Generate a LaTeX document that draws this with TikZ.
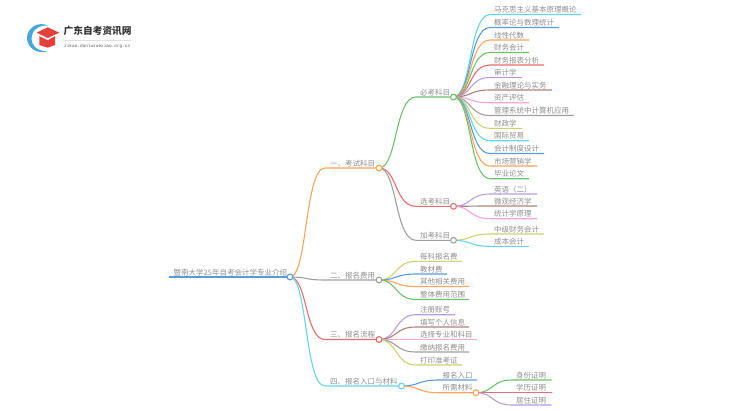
\documentclass[tikz,border=0pt]{standalone}
\usepackage{fontspec}
\setmainfont{Noto Sans CJK SC}
\newfontfamily\latinm{Liberation Mono}
\usetikzlibrary{calc}
\definecolor{cCyan}{HTML}{62D5E6}
\definecolor{cBlue}{HTML}{5B9BD5}
\definecolor{cOrange}{HTML}{FFA45C}
\definecolor{cGreen}{HTML}{6CC36C}
\definecolor{cRed}{HTML}{E86C6C}
\definecolor{cPurple}{HTML}{B89CE0}
\definecolor{cBrown}{HTML}{AB8279}
\definecolor{cPink}{HTML}{F2A3E0}
\definecolor{cGrey}{HTML}{A0A0A0}
\definecolor{cOlive}{HTML}{D0D070}
\definecolor{cText}{HTML}{8E8E8E}
\definecolor{cLogoRed}{HTML}{E5403A}
\definecolor{cLogoBlue}{HTML}{45A5DC}
\tikzset{
  wire/.style={line width=1.1pt},
  hub/.style={circle,draw=#1,fill=white,line width=1.1pt,inner sep=0pt,minimum size=5.8pt},
  lab/.style={text=cText,font=\fontsize{7.5}{8}\selectfont,inner sep=0pt,anchor=base west},
}
% curve from a hub (#1) to the start of a rule (#2)
\newcommand{\swoop}[2]{let \p1=(#1),\p2=(#2) in (\p1) .. controls ({\x1+.5*(\x2-\x1)},\y1) and ({\x1+.42*(\x2-\x1)},\y2) .. (\p2)}
% name, parent, xstart, xend, y, colour, text
\newcommand{\branch}[7]{%
  \coordinate (#1s) at (#3,#5);
  \coordinate (#1e) at (#4,#5);
  \node[lab] (#1) at (#3+4,#5-1.8) {#7};
  \draw[wire,#6] \swoop{#2}{#1s} -- (#1e);
}
\begin{document}
\begin{tikzpicture}[x=1pt,y=-1pt]
\useasboundingbox (0,0) rectangle (750,410);
% logo
\fill[cLogoBlue] (48,25.5) .. controls (38,21) and (27,28) .. (27,38) .. controls (27,48) and (38,55) .. (48,51)
  .. controls (38,52) and (31.5,46) .. (31.5,38) .. controls (31.5,31) and (38,25) .. (48,25.5) -- cycle;
\fill[cLogoRed] (36.7,32.7) -- (47.7,27.3) -- (59.3,32.7) -- (47.7,38) -- cycle;
\fill[cLogoRed] (39.3,36.2) -- (47.7,40.2) -- (55,36.2) -- (55,45) -- (47.7,47.7) -- (39.3,45) -- cycle;
\node[inner sep=0pt,anchor=west,text=black!80,font=\bfseries\fontsize{9.7}{10}\selectfont] (logot) at (63.5,31) {广东自考资讯网};
\coordinate (rulea) at (63,40);
\coordinate (ruleb) at (131,40);
\draw[black!12,line width=.5pt] (rulea) -- (ruleb);
\node[inner sep=0pt,anchor=west,text=black!65,font=\latinm\fontsize{4.4}{6}\selectfont] (logou) at (64,46.5) {zikao.danluxuexiao.org.cn};
% hub positions
\coordinate (root) at (290,277);
\coordinate (h1) at (379,168);
\coordinate (h2) at (379,280);
\coordinate (h3) at (379,339.5);
\coordinate (h4) at (401.5,386);
\coordinate (bk) at (453.5,97);
\coordinate (xk) at (453.5,206.3);
\coordinate (jk) at (453.5,240.3);
\coordinate (sx) at (476,392.7);
% root line
\coordinate (roots) at (169,277);
\draw[wire,cBlue] (roots) -- (root);
\node[lab] (roott) at (173.5,275.2) {暨南大学25年自考会计学专业介绍};
% level 1
\coordinate (a1) at (325,168);
\draw[wire,cOrange] \swoop{root}{a1} -- (h1);
\node[lab] (t1) at (330,166.2) {一、考试科目};
\coordinate (a2) at (325,280);
\draw[wire,cGrey] \swoop{root}{a2} -- (h2);
\node[lab] (t2) at (330,278.2) {二、报名费用};
\coordinate (a3) at (325,339.5);
\draw[wire,cRed] \swoop{root}{a3} -- (h3);
\node[lab] (t3) at (330,337.7) {三、报名流程};
\coordinate (a4) at (325,386);
\draw[wire,cCyan] \swoop{root}{a4} -- (h4);
\node[lab] (t4) at (330,384.2) {四、报名入口与材料};
% level 2
\coordinate (b1) at (416,97);
\draw[wire,cGreen] \swoop{h1}{b1} -- (bk);
\node[lab] (tb) at (420,95.2) {必考科目};
\coordinate (b2) at (416,206.3);
\draw[wire,cRed] \swoop{h1}{b2} -- (xk);
\node[lab] (tx) at (420,204.5) {选考科目};
\coordinate (b3) at (416,240.3);
\draw[wire,cGrey] \swoop{h1}{b3} -- (jk);
\node[lab] (tj) at (420,238.5) {加考科目};
% required
\branch{l1}{bk}{490}{581}{14.5}{cCyan}{马克思主义基本原理概论}
\branch{l2}{bk}{490}{559}{27.5}{cBlue}{概率论与数理统计}
\branch{l3}{bk}{490}{529}{40}{cOrange}{线性代数}
\branch{l4}{bk}{490}{529}{52.5}{cGreen}{财务会计}
\branch{l5}{bk}{490}{544}{65}{cRed}{财务报表分析}
\branch{l6}{bk}{490}{522}{77.5}{cPurple}{审计学}
\branch{l7}{bk}{490}{552}{90}{cBrown}{金融理论与实务}
\branch{l8}{bk}{490}{529}{102.7}{cPink}{资产评估}
\branch{l9}{bk}{490}{574}{115.5}{cGrey}{管理系统中计算机应用}
\branch{l10}{bk}{490}{522}{128.3}{cOlive}{财政学}
\branch{l11}{bk}{490}{529}{140.7}{cCyan}{国际贸易}
\branch{l12}{bk}{490}{544}{153.5}{cBlue}{会计制度设计}
\branch{l13}{bk}{490}{537}{166}{cOrange}{市场营销学}
\branch{l14}{bk}{490}{529}{178.7}{cGreen}{毕业论文}
% elective
\branch{x1}{xk}{490}{537}{194}{cPurple}{英语（二）}
\branch{x2}{xk}{490}{537}{206}{cBrown}{微观经济学}
\branch{x3}{xk}{490}{537}{218.7}{cPink}{统计学原理}
% extra
\branch{j1}{jk}{490}{544}{234}{cOlive}{中级财务会计}
\branch{j2}{jk}{490}{529}{246.3}{cCyan}{成本会计}
% fees
\branch{f1}{h2}{416}{462}{261.3}{cOlive}{每科报名费}
\branch{f2}{h2}{416}{447}{274}{cBlue}{教材费}
\branch{f3}{h2}{416}{469}{286.5}{cOrange}{其他相关费用}
\branch{f4}{h2}{416}{469}{299.5}{cGreen}{整体费用范围}
% process
\branch{p1}{h3}{416}{455}{314.7}{cPurple}{注册账号}
\branch{p2}{h3}{416}{469}{327}{cBrown}{填写个人信息}
\branch{p3}{h3}{416}{477}{339.5}{cPink}{选择专业和科目}
\branch{p4}{h3}{416}{469}{352}{cGrey}{缴纳报名费用}
\branch{p5}{h3}{416}{462}{365}{cOlive}{打印准考证}
% entry
\branch{e1}{h4}{438.5}{477}{380}{cBlue}{报名入口}
\coordinate (e2s) at (438.5,392.7);
\draw[wire,cOrange] \swoop{h4}{e2s} -- (sx);
\node[lab] (e2) at (442.5,390.9) {所需材料};
\branch{m1}{sx}{512}{551.7}{380}{cGreen}{身份证明}
\branch{m2}{sx}{512}{551.7}{392.7}{cRed}{学历证明}
\branch{m3}{sx}{512}{551.7}{405}{cPurple}{居住证明}
% hubs on top
\node[hub=cBlue] (nroot) at (root) {};
\node[hub=cOrange] (n1) at (h1) {};
\node[hub=cGrey] (n2) at (h2) {};
\node[hub=cRed] (n3) at (h3) {};
\node[hub=cCyan] (n4) at (h4) {};
\node[hub=cGreen] (nbk) at (bk) {};
\node[hub=cRed] (nxk) at (xk) {};
\node[hub=cGrey] (njk) at (jk) {};
\node[hub=cOrange] (nsx) at (sx) {};
\end{tikzpicture}
\end{document}
